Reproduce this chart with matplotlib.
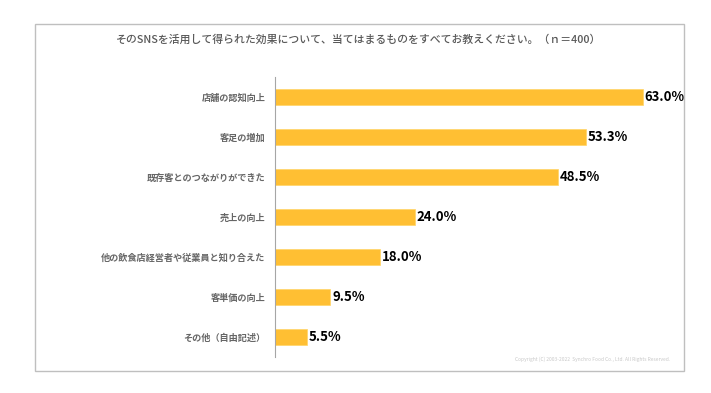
import matplotlib
matplotlib.use('Agg')
import matplotlib.pyplot as plt
from matplotlib.patches import Rectangle

plt.rcParams['font.family'] = ['Noto Sans CJK JP', 'DejaVu Sans']

# Survey results (n=400)
labels = ['店舗の認知向上', '客足の増加', '既存客とのつながりができた', '売上の向上',
          '他の飲食店経営者や従業員と知り合えた', '客単価の向上', 'その他（自由記述）']
values = [63.0, 53.3, 48.5, 24.0, 18.0, 9.5, 5.5]

title = 'そのSNSを活用して得られた効果について、当てはまるものをすべてお教えください。（ｎ＝400）'
copyright_text = 'Copyright (C) 2003-2022  Synchro Food Co., Ltd. All Rights Reserved.'

fig = plt.figure(figsize=(7.11, 3.93), dpi=100)

# outer frame
fig.patches.append(Rectangle((0.0492, 0.056), 0.913, 0.883, transform=fig.transFigure,
                             fill=False, edgecolor='#BFBFBF', linewidth=1.0))

ax = fig.add_axes([0.3868, 0.0916, 0.575, 0.712])
y = list(range(len(labels)))
ax.barh(y, values, height=0.39, color='#FFBF33', edgecolor='#FFD466', linewidth=0.5)

for i, v in enumerate(values):
    ax.text(v + 0.3, i, f'{v:.1f}%', va='center', ha='left',
            fontsize=9.5, fontweight='bold', color='#000000')

ax.set_yticks(y)
ax.set_yticklabels(labels, fontsize=6.6, fontweight='bold', color='#666666')
ax.tick_params(axis='y', length=0, pad=7)
ax.set_xticks([])
ax.set_xlim(0, 70)
ax.set_ylim(6.5, -0.5)

for side in ['top', 'right', 'bottom']:
    ax.spines[side].set_visible(False)
ax.spines['left'].set_color('#A6A6A6')
ax.spines['left'].set_linewidth(0.8)

fig.text(0.504, 0.898, title, ha='center', va='center', fontsize=7.8,
         fontweight='medium', color='#595959')
fig.text(0.942, 0.0865, copyright_text, ha='right', va='center', fontsize=3.5, color='#C8C8C8')

fig.savefig('out.png', dpi=100)
